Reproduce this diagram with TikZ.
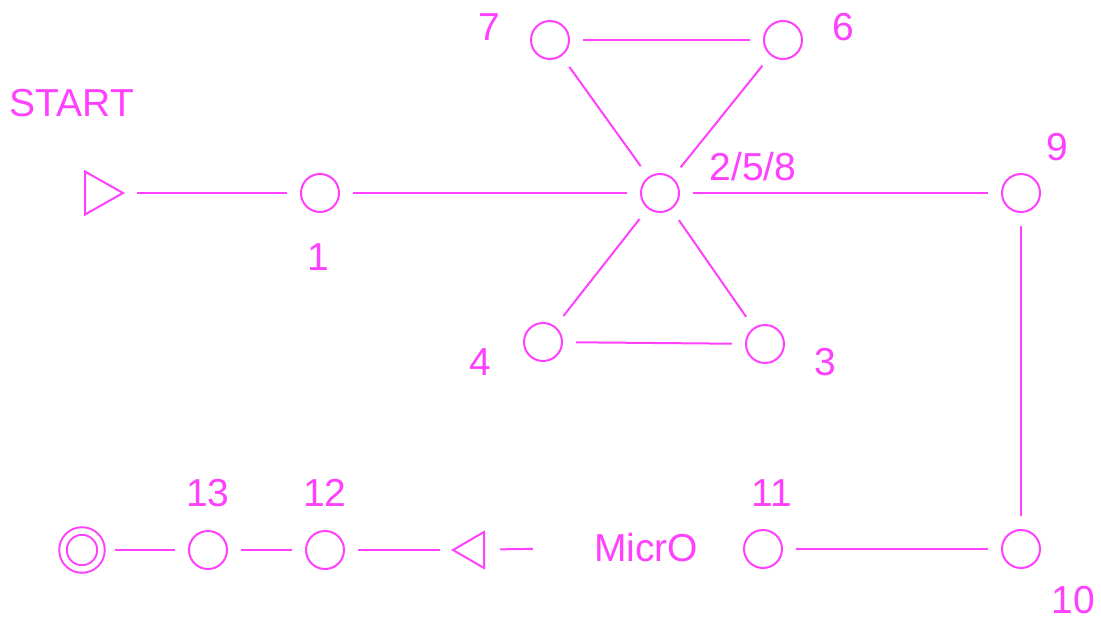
\documentclass[tikz,border=0pt]{standalone}
\usepackage{fontspec}
\setmainfont{Liberation Sans}
\definecolor{mag}{RGB}{255,64,255}
\tikzset{
	state/.style={circle,draw=mag,line width=2pt,minimum size=38pt,inner sep=0pt},
	lbl/.style={text=mag,inner sep=0pt,font=\fontsize{39}{40}\selectfont},
	link/.style={draw=mag,line width=2pt,shorten <=13pt,shorten >=13pt},
	marker/.style={draw=mag,line width=2pt,line join=miter}
}
\begin{document}
\begin{tikzpicture}[x=1pt,y=-1pt]
\useasboundingbox (0,0) rectangle (1101,621);
% states
\foreach \n/\x/\y in {n1/320/193,hub/660/193,n9/1021/193,n7/550/40,n6/783/40,
	n4/543/342,n3/765/344,n10/1021/549,n11/763/549,n12/325/550,n13/208/550}
{
	\node[state] (\n) at (\x,\y) {};
}
\node[state,double=white,double distance=5.5pt,minimum size=38pt] (fin) at (82,550) {};
% start and back markers
\coordinate (start) at (123,193);
\coordinate (back) at (453,550);
\draw[marker] (start) -- ++(-38,-21.5) -- ++(0,43) -- cycle;
\draw[marker] (back) -- ++(31,-18) -- ++(0,36) -- cycle;
% labels
\node[lbl] (lstart) at (72,103) {START};
\node[lbl] (lmicro) at (646,548) {MicrO};
\node[lbl] (l258) at (753,167) {2/5/8};
\foreach \t/\x/\y in {1/318/257,7/489/27,6/843/27,9/1057/147,4/480/362,3/825/362,
	11/772/493,10/1073/600,12/325/493,13/208/493}
{
	\node[lbl] (l\t) at (\x,\y) {\t};
}
% connectors
\foreach \a/\b in {n1/hub,hub/n9,n7/n6,n7/hub,n6/hub,hub/n4,hub/n3,n4/n3,
	n9/n10,n11/n10,n13/n12,fin/n13}
{
	\draw[link] (\a) -- (\b);
}
\draw[link,shorten <=14pt] (start) -- (n1);
\draw[link] (n12) -- (back);
\draw[link,shorten <=61pt,shorten >=47pt] (lmicro.west) -- (back);
\end{tikzpicture}
\end{document}
